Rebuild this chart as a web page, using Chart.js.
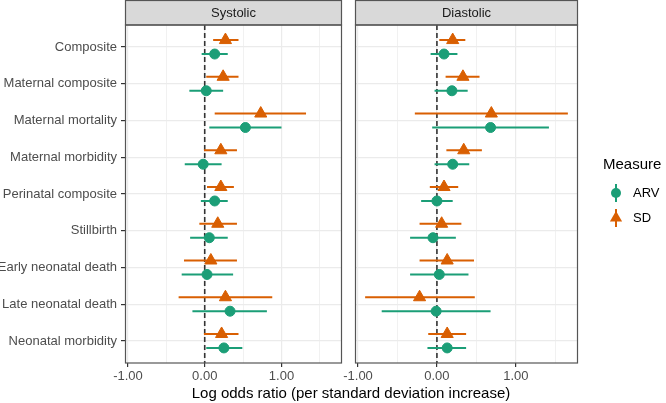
<!DOCTYPE html>
<html>
<head>
<meta charset="utf-8">
<script src="https://cdn.jsdelivr.net/npm/chart.js@4"></script>
<style>
    body { margin: 0; background: #fff; }
    #wrap { position: relative; width: 666px; height: 403px; overflow: hidden; font-family: "Liberation Sans", Arial, sans-serif; }
    #sys { position: absolute; left: 0; top: 0; }
    #dia { position: absolute; left: 340px; top: 0; }
    #xtitle { position: absolute; left: 351px; top: 385px; transform: translateX(-50%); font-size: 15px; line-height: 15px; white-space: nowrap; color: #000; }
</style>
</head>
<body>
<div id="wrap">
    <canvas id="sys" width="350" height="403"></canvas>
    <canvas id="dia" width="326" height="403"></canvas>
    <div id="xtitle">Log odds ratio (per standard deviation increase)</div>
</div>
<script>
const outcomes = ["Composite", "Maternal composite", "Maternal mortality", "Maternal morbidity",
    "Perinatal composite", "Stillbirth", "Early neonatal death", "Late neonatal death", "Neonatal morbidity"];
const xTicks = [-1, -0.5, 0, 0.5, 1, 1.5];
const measures = ["ARV", "SD"];

// Systolic
const sysArvEst = [0.13, 0.02, 0.53, -0.02, 0.13, 0.06, 0.03, 0.33, 0.25];
const sysArvLo  = [-0.04, -0.20, 0.06, -0.26, -0.05, -0.19, -0.30, -0.16, 0.02];
const sysArvHi  = [0.30, 0.24, 1.00, 0.22, 0.30, 0.30, 0.37, 0.81, 0.49];
const sysSdEst  = [0.27, 0.24, 0.73, 0.21, 0.21, 0.17, 0.08, 0.27, 0.22];
const sysSdLo   = [0.11, 0.02, 0.13, -0.01, 0.03, -0.07, -0.27, -0.34, -0.01];
const sysSdHi   = [0.44, 0.44, 1.32, 0.42, 0.38, 0.42, 0.42, 0.88, 0.44];

// Diastolic
const diaArvEst = [0.09, 0.19, 0.68, 0.20, 0.00, -0.05, 0.03, -0.01, 0.13];
const diaArvLo  = [-0.08, -0.03, -0.06, -0.03, -0.20, -0.34, -0.34, -0.70, -0.12];
const diaArvHi  = [0.26, 0.39, 1.42, 0.41, 0.20, 0.24, 0.40, 0.68, 0.37];
const diaSdEst  = [0.20, 0.33, 0.69, 0.34, 0.09, 0.06, 0.13, -0.22, 0.13];
const diaSdLo   = [0.03, 0.11, -0.28, 0.12, -0.09, -0.22, -0.22, -0.91, -0.11];
const diaSdHi   = [0.36, 0.54, 1.66, 0.57, 0.27, 0.31, 0.47, 0.48, 0.37];

const green = "#1b9e77";
const orange = "#d95f02";
const fontFamily = '"Liberation Sans", Arial, sans-serif';
Chart.defaults.font.family = fontFamily;

// shared x range, ggplot style 5% expansion
const xLo = Math.min(...sysArvLo, ...sysSdLo, ...diaArvLo, ...diaSdLo);
const xHi = Math.max(...sysArvHi, ...sysSdHi, ...diaArvHi, ...diaSdHi);
const xPad = (xHi - xLo) * 0.05;
const yMin = 0.4, yMax = outcomes.length + 0.6;
const dodge = 0.19;

function points(est, shift) {
    return est.map((v, i) => ({ x: v, y: i + 1 + shift }));
}
function ranges(lo, hi, shift) {
    const out = [];
    lo.forEach((v, i) => {
        out.push({ x: v, y: i + 1 + shift }, { x: hi[i], y: i + 1 + shift }, { x: null, y: null });
    });
    return out;
}

// panel border + grey strip on top
const panelPlugin = {
    id: "panel",
    afterDraw(chart, args, opts) {
        const { ctx, chartArea: a } = chart;
        ctx.save();
        ctx.fillStyle = "#d9d9d9";
        ctx.fillRect(a.left, 1, a.right - a.left, a.top - 1);
        ctx.strokeStyle = "#555";
        ctx.lineWidth = 1.2;
        ctx.strokeRect(a.left + 0.5, 0.5, a.right - a.left - 1, a.top - 0.5);
        ctx.strokeRect(a.left + 0.5, a.top, a.right - a.left - 1, a.bottom - a.top);
        ctx.fillStyle = "#1a1a1a";
        ctx.font = "13px " + fontFamily;
        ctx.textAlign = "center";
        ctx.textBaseline = "middle";
        ctx.fillText(opts.title, (a.left + a.right) / 2, a.top / 2 + 1);
        ctx.restore();
    }
};

const legendPlugin = {
    id: "measureLegend",
    afterDraw(chart, args, opts) {
        if (!opts.show) return;
        const { ctx, chartArea: a } = chart;
        const mid = (a.top + a.bottom) / 2;
        const kx = a.right + 38;
        ctx.save();
        ctx.fillStyle = "#000";
        ctx.font = "15px " + fontFamily;
        ctx.textBaseline = "middle";
        ctx.textAlign = "left";
        ctx.fillText("Measure", a.right + 25, mid - 29);
        measures.forEach((m, i) => {
            const ky = mid - 1 + i * 25;
            const col = m === "ARV" ? green : orange;
            ctx.strokeStyle = col;
            ctx.fillStyle = col;
            ctx.lineWidth = 2;
            ctx.beginPath();
            ctx.moveTo(kx, ky - 9);
            ctx.lineTo(kx, ky + 9);
            ctx.stroke();
            ctx.beginPath();
            if (m === "ARV") {
                ctx.arc(kx, ky, 5, 0, Math.PI * 2);
            } else {
                ctx.moveTo(kx, ky - 7);
                ctx.lineTo(kx + 6.1, ky + 3.5);
                ctx.lineTo(kx - 6.1, ky + 3.5);
                ctx.closePath();
            }
            ctx.fill();
            ctx.fillStyle = "#000";
            ctx.font = "13px " + fontFamily;
            ctx.fillText(m, a.right + 55, ky);
        });
        ctx.restore();
    }
};

function makePanel(id, title, arvEst, arvLo, arvHi, sdEst, sdLo, sdHi, first) {
    const ctx = document.getElementById(id).getContext("2d");
    return new Chart(ctx, {
        type: "scatter",
        data: {
            datasets: [
                {
                    label: "ref",
                    data: [{ x: 0, y: yMin }, { x: 0, y: yMax }],
                    showLine: true,
                    borderColor: "#333",
                    borderWidth: 1.6,
                    borderDash: [5, 3],
                    pointRadius: 0,
                    order: 10
                },
                {
                    label: "SD CI",
                    data: ranges(sdLo, sdHi, -dodge),
                    showLine: true,
                    spanGaps: false,
                    borderColor: orange,
                    borderWidth: 2,
                    pointRadius: 0,
                    order: 5
                },
                {
                    label: "ARV CI",
                    data: ranges(arvLo, arvHi, dodge),
                    showLine: true,
                    spanGaps: false,
                    borderColor: green,
                    borderWidth: 2,
                    pointRadius: 0,
                    order: 5
                },
                {
                    label: "SD",
                    data: points(sdEst, -dodge),
                    pointStyle: "triangle",
                    pointRadius: 7,
                    backgroundColor: orange,
                    borderColor: orange,
                    borderWidth: 1,
                    order: 1
                },
                {
                    label: "ARV",
                    data: points(arvEst, dodge),
                    pointStyle: "circle",
                    pointRadius: 5,
                    backgroundColor: green,
                    borderColor: green,
                    borderWidth: 1,
                    order: 1
                }
            ]
        },
        options: {
            responsive: false,
            animation: false,
            layout: { padding: first ? { left: 0, right: 3, top: 25, bottom: 0 } : { left: 15, right: 88, top: 25, bottom: 0 } },
            plugins: {
                legend: { display: false },
                tooltip: { enabled: false },
                panel: { title: title },
                measureLegend: { show: !first }
            },
            scales: {
                x: {
                    type: "linear",
                    min: xLo - xPad,
                    max: xHi + xPad,
                    afterBuildTicks: s => { s.ticks = xTicks.map(v => ({ value: v })); },
                    afterFit: s => { s.height = 40; s.paddingLeft = 0; s.paddingRight = 0; },
                    border: { display: false },
                    grid: {
                        color: "#ebebeb",
                        lineWidth: c => Number.isInteger(c.tick.value) ? 1.2 : 0.7,
                        tickColor: c => Number.isInteger(c.tick.value) ? "#333" : "rgba(0,0,0,0)",
                        tickWidth: 1.2,
                        tickLength: 4
                    },
                    ticks: {
                        color: "#4d4d4d",
                        font: { size: 13 },
                        padding: 2,
                        maxRotation: 0,
                        autoSkip: false,
                        callback: v => Number.isInteger(v) ? v.toFixed(2) : ""
                    }
                },
                y: {
                    type: "linear",
                    reverse: true,
                    min: yMin,
                    max: yMax,
                    afterBuildTicks: s => { s.ticks = outcomes.map((_, i) => ({ value: i + 1 })); },
                    afterFit: s => { s.width = first ? 125 : 0; s.paddingTop = 0; s.paddingBottom = 0; },
                    border: { display: false },
                    grid: { color: "#ebebeb", lineWidth: 1.2, drawTicks: first, tickColor: "#333", tickLength: 4 },
                    ticks: {
                        display: first,
                        color: "#4d4d4d",
                        font: { size: 13 },
                        padding: 4,
                        autoSkip: false,
                        callback: v => outcomes[v - 1]
                    }
                }
            }
        },
        plugins: [panelPlugin, legendPlugin]
    });
}

document.addEventListener("DOMContentLoaded", function() {
    makePanel("sys", "Systolic", sysArvEst, sysArvLo, sysArvHi, sysSdEst, sysSdLo, sysSdHi, true);
    makePanel("dia", "Diastolic", diaArvEst, diaArvLo, diaArvHi, diaSdEst, diaSdLo, diaSdHi, false);
});
</script>
</body>
</html>
